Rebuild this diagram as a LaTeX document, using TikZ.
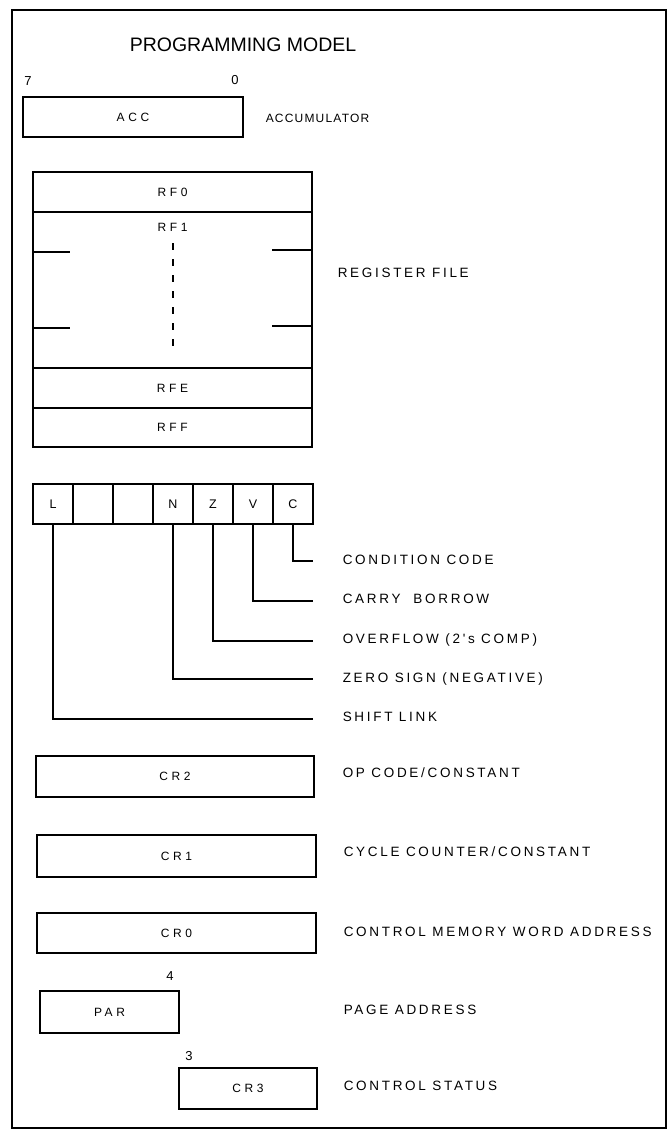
\documentclass[tikz,border=0pt]{standalone}
\usepackage{fontspec}
\setmainfont{Liberation Sans}
\newfontfamily\labfont{Liberation Sans}[LetterSpace=20]
\newfontfamily\accfont{Liberation Sans}[LetterSpace=10]
\newfontfamily\boxfont{Liberation Sans}[LetterSpace=30]
\begin{document}
\begin{tikzpicture}[x=1pt,y=-1pt,
  line width=1.5pt,
  reg/.style={draw, rectangle, inner sep=0pt, font=\boxfont\fontsize{12}{14}\selectfont},
  flag/.style={draw, rectangle, inner sep=0pt, minimum width=40pt, minimum height=40pt, font=\fontsize{12.5}{14}\selectfont},
  lab/.style={anchor=west, inner sep=0pt, font=\labfont\fontsize{13.5}{16}\selectfont},
  num/.style={inner sep=0pt, font=\fontsize{13}{15}\selectfont},
  txt/.style={inner sep=0pt, font=\boxfont\fontsize{12}{14}\selectfont},
  conn/.style={line width=1.5pt}]
\useasboundingbox (0,0) rectangle (668,1132);
\draw[line width=1.2pt] (12,10) rectangle (666,1128);
\node[inner sep=0pt, font=\fontsize{19.5}{22}\selectfont] (title) at (243,45) {PROGRAMMING MODEL};
% accumulator
\node[num] (n7) at (28,81) {7};
\node[num] (n0) at (235,80) {0};
\node[reg, minimum width=220pt, minimum height=40pt] (acc) at (133,117) {ACC};
\node[lab, font=\accfont\fontsize{12}{14}\selectfont] (lacc) at (265,118) {ACCUMULATOR};
% register file
\node[reg, minimum width=279pt, minimum height=40pt] (rf0) at (172.5,192) {RF0};
\node[reg, minimum width=279pt, minimum height=156pt] (rfmid) at (172.5,290) {};
\node[txt] (rf1) at (172.5,227) {RF1};
\node[reg, minimum width=279pt, minimum height=40pt] (rfe) at (172.5,388) {RFE};
\node[reg, minimum width=279pt, minimum height=39pt] (rff) at (172.5,427.5) {RFF};
\coordinate (dtop) at (173,243);
\coordinate (dbot) at (173,353);
\draw[line width=1.4pt, dash pattern=on 7pt off 9pt] (dtop) -- (dbot);
\coordinate (tl1) at (70,252);
\coordinate (tl2) at (70,328);
\coordinate (tr1) at (272,250);
\coordinate (tr2) at (272,326);
\draw (rfmid.west |- tl1) -- (tl1);
\draw (rfmid.west |- tl2) -- (tl2);
\draw (rfmid.east |- tr1) -- (tr1);
\draw (rfmid.east |- tr2) -- (tr2);
\node[lab] (lrf) at (337,273) {REGISTER FILE};
% flags
\node[flag] (fL) at (53,504) {L};
\node[flag] (f6) at (93,504) {};
\node[flag] (f5) at (133,504) {};
\node[flag] (fN) at (173,504) {N};
\node[flag] (fZ) at (213,504) {Z};
\node[flag] (fV) at (253,504) {V};
\node[flag] (fC) at (293,504) {C};
\coordinate (eC) at (313,561);
\coordinate (eV) at (313,601);
\coordinate (eZ) at (313,641);
\coordinate (eN) at (313,679);
\coordinate (eL) at (313,719);
\draw[conn] (fC.south) |- (eC);
\draw[conn] (fV.south) |- (eV);
\draw[conn] (fZ.south) |- (eZ);
\draw[conn] (fN.south) |- (eN);
\draw[conn] (fL.south) |- (eL);
\node[lab] (lC) at (342,560) {CONDITION CODE};
\node[lab] (lV) at (342,599) {CARRY\ \ BORROW};
\node[lab] (lZ) at (342,640) {OVERFLOW (2's COMP)};
\node[lab] (lN) at (342,679) {ZERO SIGN (NEGATIVE)};
\node[lab] (lL) at (342,717) {SHIFT LINK};
% control registers
\node[reg, minimum width=278pt, minimum height=41pt] (cr2) at (175,776.5) {CR2};
\node[lab] (lcr2) at (342,773) {OP CODE/CONSTANT};
\node[reg, minimum width=279pt, minimum height=42pt] (cr1) at (176.5,856) {CR1};
\node[lab] (lcr1) at (343,852) {CYCLE COUNTER/CONSTANT};
\node[reg, minimum width=279pt, minimum height=40pt] (cr0) at (176.5,933) {CR0};
\node[lab] (lcr0) at (343,932) {CONTROL MEMORY WORD ADDRESS};
\node[num] (n4) at (170,976) {4};
\node[reg, minimum width=139pt, minimum height=42pt] (par) at (109.5,1012) {PAR};
\node[lab] (lpar) at (343,1010) {PAGE ADDRESS};
\node[num] (n3) at (189,1056) {3};
\node[reg, minimum width=138pt, minimum height=41pt] (cr3) at (248,1088.5) {CR3};
\node[lab] (lcr3) at (343,1086) {CONTROL STATUS};
\end{tikzpicture}
\end{document}
